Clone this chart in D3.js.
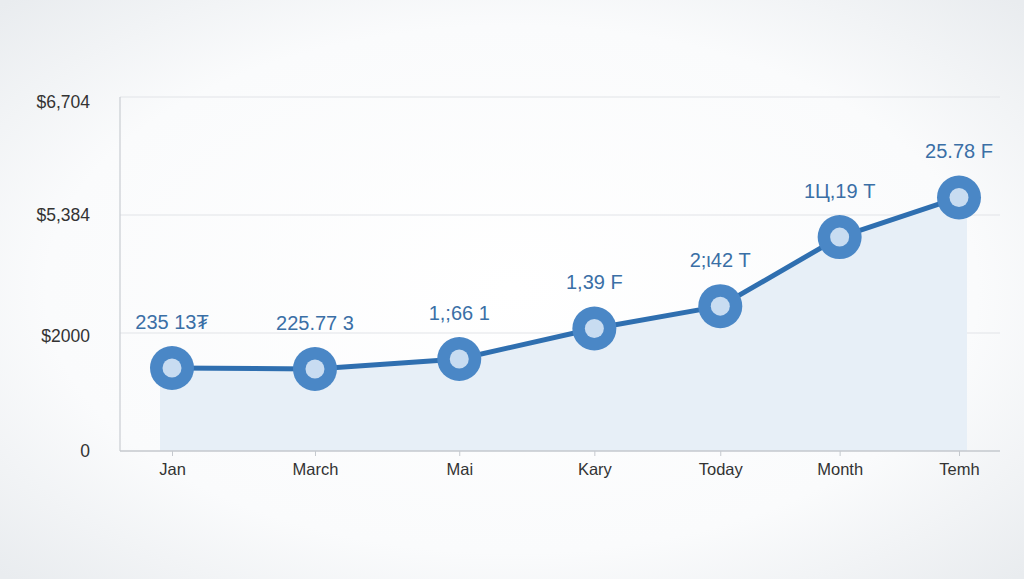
<!DOCTYPE html>
<html>
<head>
<meta charset="utf-8">
<script src="https://cdn.jsdelivr.net/npm/d3@7"></script>
<style>
html,body{margin:0;padding:0;width:1024px;height:579px;overflow:hidden;}
body{background:#f6f7f9;}
svg{display:block;}
</style>
</head>
<body>
<svg id="chart" width="1024" height="579"></svg>
<script>
// ---- data ----
const categories = ["Jan", "March", "Mai", "Kary", "Today", "Month", "Temh"];
const periods = [0, 10.9, 21.9, 32.2, 41.8, 50.9, 60];      // position along the time axis
const values = [1407, 1390, 1560, 2130, 2770, 4750, 5580];   // dollars
const pointLabels = ["235 13\u20AE", "225.77 3", "1,;66 1", "1,39 F", "2;\u03B942 T", "1\u0426,19 T", "25.78 F"];
const yTickValues = [0, 2000, 5384, 6704];
const yTickLabels = ["0", "$2000", "$5,384", "$6,704"];

const svg = d3.select("#chart");
const W = 1024, H = 579;
const m = {left: 120, right: 1000, top: 97, bottom: 451};
const FONT = "'Liberation Sans', Arial, sans-serif";

// background glow
const defs = svg.append("defs");
const rg = defs.append("radialGradient").attr("id", "bg").attr("cx", "50%").attr("cy", "50%").attr("r", "70%");
rg.append("stop").attr("offset", "0%").attr("stop-color", "#ffffff");
rg.append("stop").attr("offset", "65%").attr("stop-color", "#fafbfc");
rg.append("stop").attr("offset", "100%").attr("stop-color", "#e9ecef");
svg.append("rect").attr("width", W).attr("height", H).attr("fill", "url(#bg)");

const x = d3.scaleLinear().domain([0, 60]).range([172, 959]);
const y = d3.scaleLinear().domain(yTickValues).range([451, 333, 215, 97]);

const data = categories.map((c, i) => ({c, p: periods[i], v: values[i], label: pointLabels[i]}));

// gridlines
svg.append("g").selectAll("line").data(yTickValues.slice(1)).join("line")
  .attr("x1", m.left).attr("x2", m.right)
  .attr("y1", d => y(d)).attr("y2", d => y(d))
  .attr("stroke", "#e1e4e8").attr("stroke-width", 1.2);

// area
const area = d3.area().x(d => d.x).y0(y(0)).y1(d => d.y);
const areaPts = [{x: x(periods[0]) - 12, y: y(values[0])}]
  .concat(data.map(d => ({x: x(d.p), y: y(d.v)})))
  .concat([{x: x(periods[periods.length - 1]) + 8, y: y(values[values.length - 1])}]);
svg.append("path").attr("d", area(areaPts)).attr("fill", "#e6eef7").attr("opacity", 0.95);

// axes lines
svg.append("line").attr("x1", m.left).attr("x2", m.left).attr("y1", m.top).attr("y2", m.bottom)
  .attr("stroke", "#c9cdd2").attr("stroke-width", 1.2);

const xAxis = d3.axisBottom(x).tickValues(periods).tickFormat((d, i) => categories[i]).tickSize(5).tickPadding(7);
const gx = svg.append("g").attr("transform", `translate(0,${m.bottom})`).call(xAxis);
gx.select(".domain").remove();
gx.append("line").attr("x1", m.left).attr("x2", m.right).attr("stroke", "#c5c9ce").attr("stroke-width", 1.5);
gx.selectAll(".tick line").attr("stroke", "#c5c9ce");
gx.selectAll(".tick text").attr("fill", "#333").style("font-family", FONT).style("font-size", "16.5px");

const yAxis = d3.axisLeft(y).tickValues(yTickValues).tickFormat((d, i) => yTickLabels[i]).tickSize(0).tickPadding(0);
const gy = svg.append("g").attr("transform", `translate(90,0)`).call(yAxis);
gy.select(".domain").remove();
gy.selectAll(".tick text").attr("fill", "#333").style("font-family", FONT).style("font-size", "17.5px")
  .attr("dy", "0.32em");
gy.selectAll(".tick").filter(d => d === 6704).select("text").attr("dy", "0.6em");
gy.selectAll(".tick").filter(d => d === 2000).select("text").attr("dy", "0.5em");

// line
const line = d3.line().x(d => x(d.p)).y(d => y(d.v));
svg.append("path").datum(data).attr("d", line).attr("fill", "none")
  .attr("stroke", "#2f6fb0").attr("stroke-width", 5).attr("stroke-linejoin", "round");

// markers
const pts = svg.append("g").selectAll("g").data(data).join("g")
  .attr("transform", d => `translate(${x(d.p)},${y(d.v)})`);
pts.append("circle").attr("r", 22).attr("fill", "#4a87c6");
pts.append("circle").attr("r", 9.5).attr("fill", "#c8dcf1");

// labels
svg.append("g").selectAll("text").data(data).join("text")
  .attr("x", d => x(d.p)).attr("y", d => y(d.v) - 39)
  .attr("text-anchor", "middle")
  .attr("fill", "#3a6fa6")
  .style("font-family", FONT).style("font-size", "20px")
  .text(d => d.label);
</script>
</body>
</html>
